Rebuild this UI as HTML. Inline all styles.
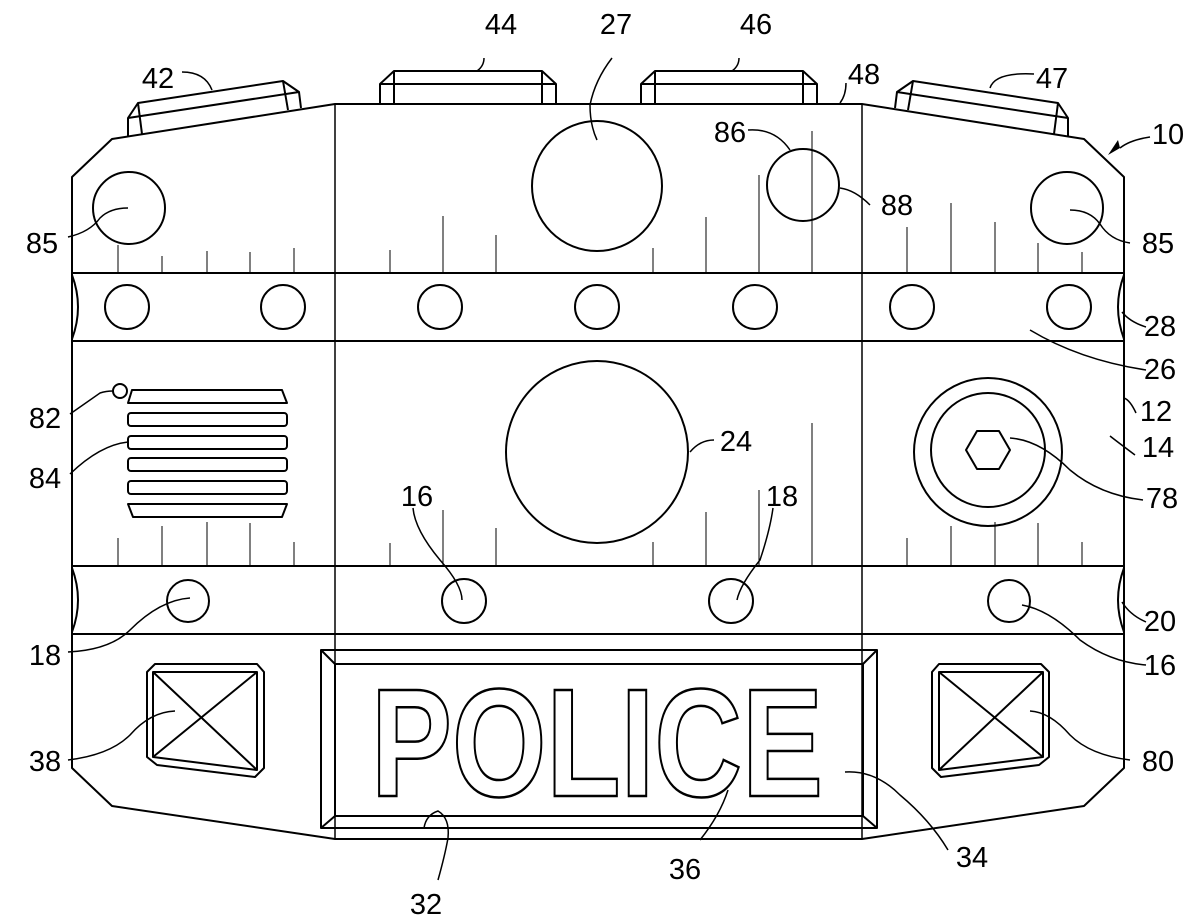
<!DOCTYPE html>
<html><head><meta charset="utf-8"><style>
html,body{margin:0;padding:0;background:#fff;}
svg{display:block;}
text{font-family:"Liberation Sans",sans-serif;font-size:29px;fill:#000;}
</style></head><body>
<svg width="1200" height="922" viewBox="0 0 1200 922" xmlns="http://www.w3.org/2000/svg">
<g fill="none" stroke="#000" stroke-width="2" stroke-linejoin="round">
<path d="M72,177 L112,139 L335,104 L862,104 L1084,139 L1124,177 L1124,768 L1084,806 L862,839 L335,839 L112,806 L72,768 Z"/>
<line x1="335" y1="104" x2="335" y2="839" stroke-width="1.5"/>
<line x1="862" y1="104" x2="862" y2="839" stroke-width="1.5"/>
<line x1="72" y1="273" x2="1124" y2="273"/>
<line x1="72" y1="341" x2="1124" y2="341"/>
<line x1="72" y1="566" x2="1124" y2="566"/>
<line x1="72" y1="634" x2="1124" y2="634"/>
<path d="M72,275 Q84,307 72,339"/>
<path d="M1124,275 Q1112,307 1124,339"/>
<path d="M72,568 Q84,600 72,632"/>
<path d="M1124,568 Q1112,600 1124,632"/>
<circle cx="127" cy="307" r="22"/><circle cx="283" cy="307" r="22"/><circle cx="440" cy="307" r="22"/>
<circle cx="597" cy="307" r="22"/><circle cx="755" cy="307" r="22"/><circle cx="912" cy="307" r="22"/>
<circle cx="1069" cy="307" r="22"/>
<circle cx="188" cy="601" r="21"/><circle cx="464" cy="601" r="22"/><circle cx="731" cy="601" r="22"/><circle cx="1009" cy="601" r="21"/>
<path d="M128,136 L128,118 L138,103 L283,81 L299,92 L301,108"/>
<path d="M128,118 L299,92"/><path d="M142,134 L138,103"/><path d="M288,110 L283,81"/>
<path d="M1068,136 L1068,118 L1058,103 L913,81 L897,92 L895,108"/>
<path d="M1068,118 L897,92"/><path d="M1054,134 L1058,103"/><path d="M908,110 L913,81"/>
<path d="M380,104 L380,84 L394,71 L542,71 L556,84 L556,104"/><path d="M380,84 L556,84"/><path d="M394,71 L394,104"/><path d="M542,71 L542,104"/>
<path d="M641,104 L641,84 L655,71 L803,71 L817,84 L817,104"/><path d="M641,84 L817,84"/><path d="M655,71 L655,104"/><path d="M803,71 L803,104"/>
<circle cx="129" cy="208" r="36"/><circle cx="1067" cy="208" r="36"/>
<circle cx="597" cy="186" r="65"/>
<circle cx="803" cy="185" r="36"/>
<circle cx="597" cy="452" r="91"/>
<circle cx="988" cy="452" r="74"/><circle cx="988" cy="450" r="57"/>
<polygon points="966,450 977,431 999,431 1010,450 999,469 977,469"/>
<circle cx="120" cy="391" r="7"/>
<path d="M132,390 L282,390 L287,403 L128,403 Z"/>
<rect x="128" y="413" width="159" height="13" rx="3"/>
<rect x="128" y="436" width="159" height="13" rx="3"/>
<rect x="128" y="458" width="159" height="13" rx="3"/>
<rect x="128" y="481" width="159" height="13" rx="3"/>
<path d="M128,504 L287,504 L282,517 L133,517 Z"/>
<rect x="321" y="650" width="556" height="178"/>
<rect x="335" y="664" width="528" height="152"/>
<path d="M321,650 L335,664 M877,650 L863,664 M321,828 L335,816 M877,828 L863,816"/>
<path d="M155,664 L257,664 L264,672 L264,768 L255,777 L157,765 L147,757 L147,672 Z"/>
<path d="M153,672 L257,672 L257,770 L153,757 Z M153,672 L257,770 M257,672 L153,757"/>
<path d="M1041,664 L939,664 L932,672 L932,768 L941,777 L1039,765 L1049,757 L1049,672 Z"/>
<path d="M1043,672 L939,672 L939,770 L1043,757 Z M1043,672 L939,770 M939,672 L1043,757"/>
</g>
<g stroke="#000" stroke-width="1" fill="none">
<path d="M118,245V273M162,256V273M207,251V273M250,252V273M294,248V273"/>
<path d="M390,250V273M443,216V273M496,235V273M653,248V273M706,217V273M759,175V273M812,131V273"/>
<path d="M907,227V273M951,203V273M995,222V273M1038,243V273M1082,252V273"/>
<path d="M118,538V566M162,526V566M207,522V566M250,523V566M294,542V566"/>
<path d="M390,543V566M443,510V566M496,528V566M653,542V566M706,512V566M759,490V566M812,423V566"/>
<path d="M907,538V566M951,526V566M995,522V566M1038,523V566M1082,542V566"/>
</g>
<text x="371" y="796" textLength="452" lengthAdjust="spacingAndGlyphs" style="font-size:154px;font-weight:bold;fill:#fff;stroke:#000;stroke-width:2.5;">POLICE</text>
<g fill="none" stroke="#000" stroke-width="1.5">
<path d="M182,72 Q205,72 212,90"/>
<path d="M484,58 Q484,66 477,71"/>
<path d="M612,58 Q595,80 590,105 Q590,125 597,140"/>
<path d="M739,58 Q739,66 732,71"/>
<path d="M846,83 Q846,95 840,103"/>
<path d="M1034,74 Q995,72 990,88"/>
<path d="M1150,137 Q1130,140 1120,148"/>
<path d="M748,130 Q775,128 790,150"/>
<path d="M840,188 Q855,190 870,205"/>
<path d="M68,237 Q90,232 100,218 Q110,208 128,208"/>
<path d="M1130,243 Q1110,240 1100,224 Q1090,210 1070,210"/>
<path d="M1146,327 Q1130,322 1122,312"/>
<path d="M1146,370 Q1080,360 1030,330"/>
<path d="M70,414 Q90,400 100,393 Q106,391 113,391"/>
<path d="M1136,413 Q1130,400 1124,398"/>
<path d="M70,474 Q100,445 128,442"/>
<path d="M714,440 Q700,440 690,452"/>
<path d="M1135,455 Q1115,440 1110,436"/>
<path d="M413,508 Q415,530 440,560 Q462,585 462,600"/>
<path d="M773,508 Q770,530 760,560 Q740,585 737,600"/>
<path d="M1143,500 Q1100,495 1070,470 Q1040,440 1010,438"/>
<path d="M68,652 Q110,650 130,630 Q160,600 190,598"/>
<path d="M1146,622 Q1130,615 1122,602"/>
<path d="M1146,665 Q1110,662 1080,640 Q1050,610 1022,605"/>
<path d="M68,760 Q110,755 130,735 Q150,712 175,711"/>
<path d="M1130,760 Q1090,755 1070,735 Q1050,712 1030,711"/>
<path d="M438,880 Q445,855 448,838 Q450,818 438,811 Q426,815 424,828"/>
<path d="M700,840 Q720,815 728,790"/>
<path d="M948,850 Q930,820 900,795 Q875,770 845,772"/>
</g>
<path d="M1120,148 L1108,155 L1118,140 Z" fill="#000"/>
<g text-anchor="middle">
<text x="158" y="88">42</text>
<text x="501" y="34">44</text>
<text x="616" y="34">27</text>
<text x="756" y="34">46</text>
<text x="864" y="84">48</text>
<text x="1052" y="88">47</text>
<text x="1168" y="144">10</text>
<text x="730" y="142">86</text>
<text x="897" y="215">88</text>
<text x="42" y="253">85</text>
<text x="1158" y="253">85</text>
<text x="1160" y="336">28</text>
<text x="1160" y="379">26</text>
<text x="45" y="428">82</text>
<text x="1156" y="421">12</text>
<text x="45" y="488">84</text>
<text x="736" y="451">24</text>
<text x="1158" y="457">14</text>
<text x="417" y="506">16</text>
<text x="782" y="506">18</text>
<text x="1162" y="508">78</text>
<text x="45" y="665">18</text>
<text x="1160" y="631">20</text>
<text x="1160" y="675">16</text>
<text x="45" y="771">38</text>
<text x="1158" y="771">80</text>
<text x="426" y="914">32</text>
<text x="685" y="879">36</text>
<text x="972" y="867">34</text>
</g>
</svg>
</body></html>
